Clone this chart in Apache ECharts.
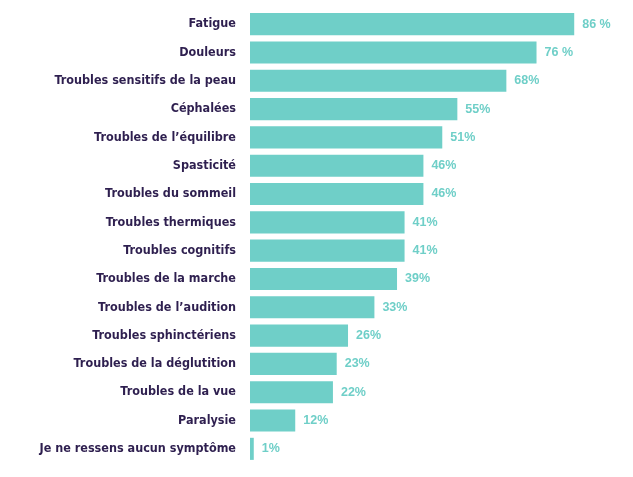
<!DOCTYPE html>
<html>
<head>
<meta charset="utf-8">
<script src="https://cdn.jsdelivr.net/npm/echarts@6/dist/echarts.min.js"></script>
<style>html,body{margin:0;padding:0;background:#fff}#c{width:633px;height:477px}</style>
</head>
<body>
<div id="c"></div>
<script>
const categories = ['Fatigue','Douleurs','Troubles sensitifs de la peau','Céphalées','Troubles de l’équilibre','Spasticité','Troubles du sommeil','Troubles thermiques','Troubles cognitifs','Troubles de la marche','Troubles de l’audition','Troubles sphinctériens','Troubles de la déglutition','Troubles de la vue','Paralysie','Je ne ressens aucun symptôme'];
const values = [86,76,68,55,51,46,46,41,41,39,33,26,23,22,12,1];
const valueLabels = ['86 %','76 %','68%','55%','51%','46%','46%','41%','41%','39%','33%','26%','23%','22%','12%','1%'];

const chart = echarts.init(document.getElementById('c'));
chart.setOption({
  animation: false,
  grid: {left: 250, top: 10, bottom: 14, width: 377, containLabel: false},
  xAxis: {type: 'value', min: 0, max: 100, show: false},
  yAxis: {
    type: 'category', data: categories, inverse: true,
    axisLine: {show: false}, axisTick: {show: false},
    axisLabel: {margin: 14, color: '#2e1f4f', fontWeight: 'bold', fontSize: 12.5,
      fontFamily: "'DejaVu Sans Condensed', sans-serif"}
  },
  series: [{
    type: 'bar', data: values, barCategoryGap: '22%',
    itemStyle: {color: '#6fcfc8'},
    label: {show: true, position: 'right', distance: 8, color: '#6fcfc8', fontWeight: 'bold',
      fontSize: 12.5, fontFamily: "'Liberation Sans', sans-serif",
      formatter: p => valueLabels[p.dataIndex]}
  }]
});
</script>
</body>
</html>
